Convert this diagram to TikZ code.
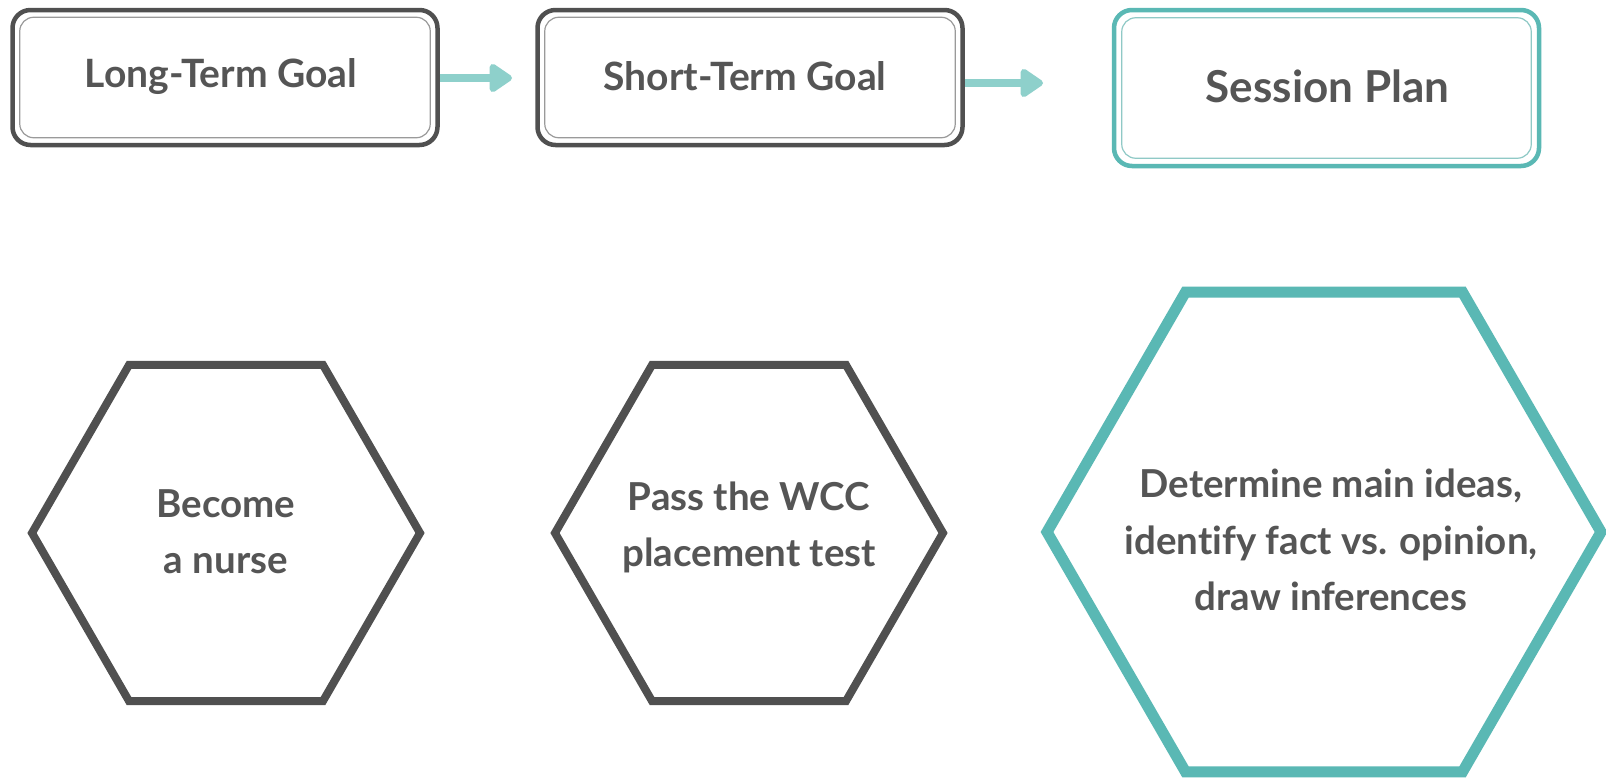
\documentclass[tikz,border=0pt]{standalone}
\usepackage{fontspec}
\setmainfont{Lato}[Ligatures=NoCommon]
\usetikzlibrary{shapes.geometric,arrows.meta}
\definecolor{dgray}{HTML}{505050}
\definecolor{tgray}{HTML}{555555}
\definecolor{lgray}{HTML}{9A9A9A}
\definecolor{teal1}{HTML}{5AB8B4}
\definecolor{teal2}{HTML}{8ED0CB}
\definecolor{lteal}{HTML}{8FC9C6}
\tikzset{
  outerbox/.style={draw=dgray, line width=4.5pt, rounded corners=18pt, inner sep=0pt},
  innerbox/.style={draw=lgray, line width=1.2pt, rounded corners=14pt},
  boxtext/.style={text=tgray, font=\fontsize{39}{45}\selectfont\bfseries},
  hexa/.style={draw=dgray, line width=8pt, regular polygon, regular polygon sides=6, inner sep=0pt},
  hextext/.style={text=tgray, align=center, font=\fontsize{38.5}{56}\selectfont\bfseries},
  flowarrow/.style={draw=teal2, line width=8.5pt, -{Triangle[length=25pt,width=32pt,round]}},
}
\begin{document}
\begin{tikzpicture}[x=1pt,y=-1pt]
\useasboundingbox (0,0) rectangle (1606,779);
\fill[white] (0,0) rectangle (1606,779);
% top boxes
\node[outerbox, minimum width=425pt, minimum height=135pt] (lt) at (225,77.5) {};
\node[outerbox, minimum width=425pt, minimum height=135pt] (st) at (750,77.5) {};
\node[outerbox, draw=teal1, minimum width=425pt, minimum height=156pt] (sp) at (1326.5,88) {};
\draw[innerbox] ([shift={(9.5,9.5)}]lt.north west) rectangle ([shift={(-9.5,-9.5)}]lt.south east);
\draw[innerbox] ([shift={(9.5,9.5)}]st.north west) rectangle ([shift={(-9.5,-9.5)}]st.south east);
\draw[innerbox, draw=lteal] ([shift={(10,10)}]sp.north west) rectangle ([shift={(-10,-10)}]sp.south east);
\node[boxtext] (ltt) at ([xshift=-4pt,yshift=1pt]lt.center) {Long-Term Goal};
\node[boxtext] (stt) at ([xshift=-5pt,yshift=1pt]st.center) {Short-Term Goal};
\node[boxtext, font=\fontsize{44}{50}\selectfont\bfseries] (spt) at ([xshift=1pt,yshift=2pt]sp.center) {Session Plan};
% arrows
\coordinate (a1e) at (512,78);
\coordinate (a2e) at (1043,83);
\draw[flowarrow] (lt.east |- a1e) -- (a1e);
\draw[flowarrow] (st.east |- a2e) -- (a2e);
% hexagons
\node[hexa, minimum size=388pt] (h1) at (226,533) {};
\node[hexa, minimum size=388pt] (h2) at (749,533) {};
\node[hexa, draw=teal1, line width=11pt, minimum size=554pt] (h3) at (1324,532) {};
\node[hextext] (h1t) at ([yshift=1pt]h1.center) {Become\\a nurse};
\node[hextext] (h2t) at ([yshift=6pt]h2.center) {Pass the WCC\\placement test};
\node[hextext, font=\fontsize{38.5}{56.5}\selectfont\bfseries] (h3t) at ([xshift=7pt,yshift=-8pt]h3.center) {Determine main ideas,\\identify fact vs. opinion,\\draw inferences};
\end{tikzpicture}
\end{document}
